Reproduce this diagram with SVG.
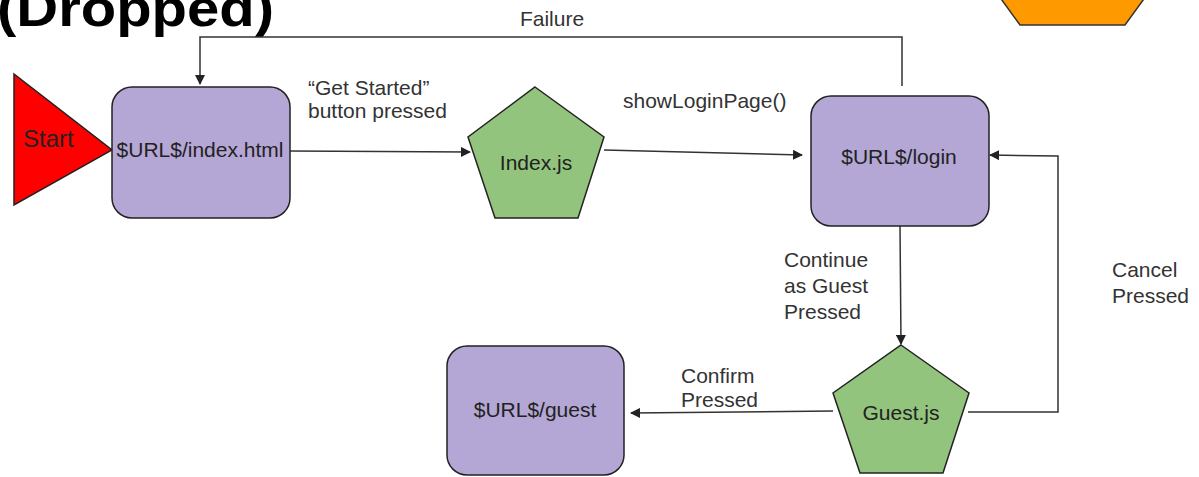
<svg xmlns="http://www.w3.org/2000/svg" width="1199" height="477" viewBox="0 0 1199 477">
  <defs>
    <marker id="arr" viewBox="0 0 10 10" refX="9" refY="5" markerWidth="10" markerHeight="10" markerUnits="userSpaceOnUse" orient="auto">
      <path d="M0,0 L10,5 L0,10 Z" fill="#222"/>
    </marker>
    <style>
      .box { fill: #b4a7d6; stroke: #222; stroke-width: 1.5; }
      .pent { fill: #93c47d; stroke: #222; stroke-width: 1.5; }
      .ntext { font-family: "Liberation Sans", Arial, sans-serif; font-size: 21px; fill: #222; text-anchor: middle; }
      .lbl { font-family: "Liberation Sans", Arial, sans-serif; font-size: 21px; fill: #333; }
      .conn { fill: none; stroke: #333; stroke-width: 1.5; }
    </style>
  </defs>
  <rect width="1199" height="477" fill="#ffffff"/>

  <text x="-3" y="26" font-family="Liberation Sans, Arial, sans-serif" font-weight="bold" font-size="52" fill="#000" textLength="277" lengthAdjust="spacingAndGlyphs">(Dropped)</text>

  <g id="hexagon">
    <polygon points="1020,25 1125,25 1154,-15 1125,-55 1020,-55 991,-15" fill="#ff9900" stroke="#333" stroke-width="1.5"/>
  </g>

  <g id="connectors">
    <polyline class="conn" points="902,86 902,37 200,37 200,84" marker-end="url(#arr)"/>
    <line class="conn" x1="290" y1="151" x2="470" y2="152" marker-end="url(#arr)"/>
    <line class="conn" x1="604" y1="150" x2="802" y2="155" marker-end="url(#arr)"/>
    <line class="conn" x1="900" y1="226" x2="901" y2="344" marker-end="url(#arr)"/>
    <polyline class="conn" points="968,412 1058,412 1058,156 990,155" marker-end="url(#arr)"/>
    <line class="conn" x1="833" y1="411" x2="631" y2="413" marker-end="url(#arr)"/>
    <text class="lbl" x="552" y="26" text-anchor="middle">Failure</text>
    <text class="lbl" x="308" y="95" font-size="19">“Get Started”</text>
    <text class="lbl" x="308" y="118" font-size="20">button pressed</text>
    <text class="lbl" x="623" y="108">showLoginPage()</text>
    <text class="lbl" x="784" y="267">Continue</text>
    <text class="lbl" x="784" y="293">as Guest</text>
    <text class="lbl" x="784" y="319">Pressed</text>
    <text class="lbl" x="1112" y="277">Cancel</text>
    <text class="lbl" x="1112" y="303">Pressed</text>
    <text class="lbl" x="681" y="383">Confirm</text>
    <text class="lbl" x="681" y="407">Pressed</text>
  </g>

  <g id="start">
    <polygon points="14,74 14,205 112,150" fill="#ff0000" stroke="#222" stroke-width="1.5"/>
    <text x="23" y="147" font-family="Liberation Sans, Arial, sans-serif" font-size="24" fill="#222">Start</text>
  </g>

  <g id="index-html">
    <rect class="box" x="112" y="87" width="178" height="131" rx="20" ry="20"/>
    <text class="ntext" x="200" y="157" font-size="20">$URL$/index.html</text>
  </g>

  <g id="index-js">
    <polygon class="pent" points="535,87 604,137 578,218 495,218 468,137"/>
    <text class="ntext" x="536" y="170">Index.js</text>
  </g>

  <g id="login">
    <rect class="box" x="811" y="96" width="178" height="130" rx="20" ry="20"/>
    <text class="ntext" x="899" y="164">$URL$/login</text>
  </g>

  <g id="guest-js">
    <polygon class="pent" points="901,345 969,393 943,473 860,473 833,393"/>
    <text class="ntext" x="901" y="420">Guest.js</text>
  </g>

  <g id="guest">
    <rect class="box" x="447" y="346" width="177" height="129" rx="20" ry="20"/>
    <text class="ntext" x="535" y="417">$URL$/guest</text>
  </g>
</svg>
